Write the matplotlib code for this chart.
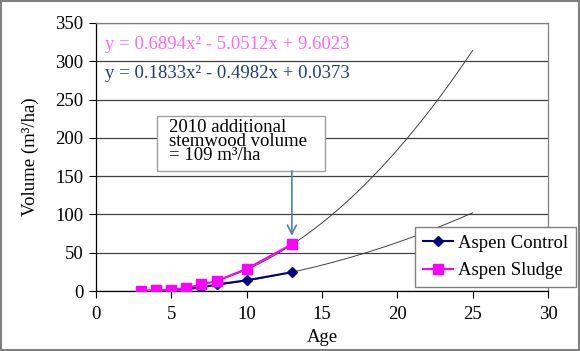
import matplotlib
matplotlib.use("Agg")
import matplotlib.pyplot as plt
import numpy as np
from matplotlib.patches import Rectangle

# Data
ages_sludge = [3, 4, 5, 6, 7, 8, 10, 13]
vol_sludge = [0.3, 0.8, 1.5, 4, 8.5, 13, 29, 61]
ages_control = [3, 4, 5, 6, 7, 8, 10, 13]
vol_control = [0.2, 0.5, 1.2, 2.5, 4.5, 8.5, 14, 24.5]
coef_sludge = [0.6894, -5.0512, 9.6023]
coef_control = [0.1833, -0.4982, 0.0373]
trend_start = 3
trend_end = 25
eq_sludge = "y = 0.6894x² - 5.0512x + 9.6023"
eq_control = "y = 0.1833x² - 0.4982x + 0.0373"
note_text = "2010 additional\nstemwood volume\n= 109 m³/ha"
x_ticks = [0, 5, 10, 15, 20, 25, 30]
y_ticks = [0, 50, 100, 150, 200, 250, 300, 350]

plt.rcParams['font.family'] = ['Liberation Serif', 'DejaVu Serif']
FS = 13.5

fig = plt.figure(figsize=(5.8, 3.51), dpi=100)
fig.patches.append(Rectangle((0.002, 0.003), 0.996, 0.994, transform=fig.transFigure,
                             fill=False, edgecolor='#808080', linewidth=1.5))
ax = fig.add_axes([96/580, (351-291)/351, 452/580, 268/351])

ax.set_xlim(0, 30)
ax.set_ylim(0, 350)
ax.set_xticks(x_ticks)
ax.set_yticks(y_ticks)
ax.tick_params(labelsize=FS, length=5, width=0.8, color='black')
ax.tick_params(axis='x', pad=6)
ax.tick_params(axis='y', pad=4)

ax.grid(axis='y', color='#404040', linewidth=0.9)
ax.set_axisbelow(True)
for s in ['top', 'right']:
    ax.spines[s].set_color('#808080')
    ax.spines[s].set_linewidth(0.9)
for s in ['left', 'bottom']:
    ax.spines[s].set_color('black')
    ax.spines[s].set_linewidth(0.9)

# Trendlines
xt = np.linspace(trend_start, trend_end, 200)
ax.plot(xt, np.polyval(coef_sludge, xt), color='#404040', linewidth=0.7, zorder=2)
ax.plot(xt, np.polyval(coef_control, xt), color='#404040', linewidth=0.7, zorder=2)

# Data series
ax.plot(ages_control, vol_control, color='#000080', marker='D', markersize=5,
        linewidth=1.5, label='Aspen Control', zorder=3)
ax.plot(ages_sludge, vol_sludge, color='#FF00FF', marker='s', markersize=7.5,
        linewidth=1.5, label='Aspen Sludge', zorder=4)

# Equations
ax.text(0.6, 322, eq_sludge, color='#FF66FF', fontsize=FS, va='center', ha='left')
ax.text(0.6, 284, eq_control, color='#1F3C78', fontsize=FS, va='center', ha='left')

# Annotation box
ax.add_patch(Rectangle((4.05, 156.7), 11.15, 71.8, facecolor='white', edgecolor='#A0A0A0',
                       linewidth=1.0, zorder=5))
ax.text(4.85, 224, note_text, fontsize=FS, va='top', ha='left', linespacing=0.75, zorder=6)
ax.annotate('', xy=(13, 72), xytext=(13, 156.7),
            arrowprops=dict(arrowstyle='->', color='#4F81BD', linewidth=1.2,
                            mutation_scale=16, shrinkA=0, shrinkB=0), zorder=6)

leg = ax.legend(loc='lower left', bbox_to_anchor=(0.706, 0.015), fontsize=FS,
                frameon=True, fancybox=False, edgecolor='#808080', framealpha=1,
                handlelength=1.6, handletextpad=0.3, borderpad=0.4, labelspacing=0.55,
                borderaxespad=0)
leg.get_frame().set_linewidth(1.0)
leg.set_zorder(10)

ax.set_xlabel('Age', fontsize=FS, labelpad=4)
ax.set_ylabel('Volume (m³/ha)', fontsize=FS, labelpad=12)

fig.savefig('out.png', dpi=100)
